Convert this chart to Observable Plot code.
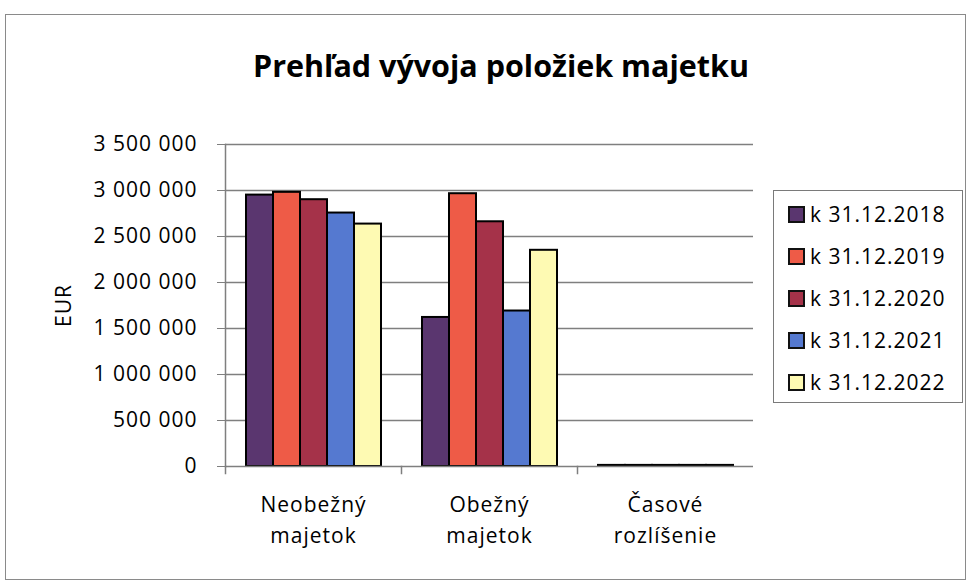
<!DOCTYPE html>
<html>
<head>
<meta charset="utf-8">
<script src="https://cdn.jsdelivr.net/npm/d3@7"></script>
<script src="https://cdn.jsdelivr.net/npm/@observablehq/plot@0.6"></script>
<style>
  html, body { margin: 0; padding: 0; background: #fff; }
  #wrap { position: relative; width: 968px; height: 585px; overflow: hidden; font-family: "Open Sans", sans-serif; color: #000; }
  #frame { position: absolute; left: 5px; top: 14px; width: 961px; height: 566px; border: 1.5px solid #8a8a8a; box-sizing: border-box; }
  #title { position: absolute; left: 0; top: 45px; width: 1002px; text-align: center; font-weight: bold; font-size: 30.5px; line-height: 40px; }
  #chart { position: absolute; left: 0; top: 0; }
  #legend { position: absolute; left: 773px; top: 190px; width: 190px; height: 213px; border: 1.5px solid #7a7a7a; box-sizing: border-box; background: #fff; }
  .item { position: absolute; left: 14px; height: 30px; display: flex; align-items: center; font-size: 21px; letter-spacing: 1px; white-space: nowrap; }
  .sw { width: 13px; height: 13px; border: 2px solid #111; margin-right: 5px; }
</style>
</head>
<body>
<div id="wrap">
  <div id="frame"></div>
  <div id="title"></div>
  <div id="chart"></div>
  <div id="legend"></div>
</div>
<script>
// ---- data ----
const titleText = "Prehľad vývoja položiek majetku";
const categories = ["Neobežný majetok", "Obežný majetok", "Časové rozlíšenie"];
const categoryLabels = ["Neobežný\nmajetok", "Obežný\nmajetok", "Časové\nrozlíšenie"];
const seriesNames = ["k 31.12.2018", "k 31.12.2019", "k 31.12.2020", "k 31.12.2021", "k 31.12.2022"];
const values2018 = [2950000, 1620000, 12000];
const values2019 = [2980000, 2965000, 12000];
const values2020 = [2900000, 2660000, 12000];
const values2021 = [2755000, 1690000, 12000];
const values2022 = [2635000, 2350000, 12000];
const seriesColors = ["#5a366f", "#ee5b47", "#a53249", "#5579d0", "#fefab3"];
const yTicks = [0, 500000, 1000000, 1500000, 2000000, 2500000, 3000000, 3500000];
const yTickLabels = ["0", "500 000", "1 000 000", "1 500 000", "2 000 000", "2 500 000", "3 000 000", "3 500 000"];
const yLabel = "EUR";

const seriesValues = [values2018, values2019, values2020, values2021, values2022];
const table = [];
seriesNames.forEach((s, j) => categories.forEach((c, i) => table.push({category: c, series: s, value: seriesValues[j][i]})));

// ---- layout ----
const W = 968, H = 585, MT = 144, MB = 119, ML = 225, MR = 215;
const FONT = "Open Sans, sans-serif";
const AXIS = "#7f7f7f";

document.getElementById("title").textContent = titleText;

const chart = Plot.plot({
  width: W, height: H,
  marginTop: MT, marginBottom: MB, marginLeft: ML, marginRight: MR,
  style: {fontFamily: FONT, fontSize: "21px", color: "#000", background: "transparent", overflow: "visible", letterSpacing: "1px"},
  fx: {domain: categories, padding: 0, label: null, axis: null},
  x: {domain: seriesNames, paddingInner: 0, paddingOuter: 0.71, axis: null},
  y: {domain: [0, 3500000], axis: null},
  color: {domain: seriesNames, range: seriesColors},
  marks: [
    Plot.gridY(yTicks.slice(1), {stroke: AXIS, strokeOpacity: 1, strokeWidth: 1.5}),
    Plot.barY(table, {fx: "category", x: "series", y: "value", fill: "series", stroke: "#000", strokeWidth: 2}),
    Plot.ruleY([0], {stroke: AXIS, strokeWidth: 1.5}),
    Plot.frame({anchor: "left", facetAnchor: "left", stroke: AXIS, strokeWidth: 1.5}),
    Plot.frame({anchor: "left", stroke: AXIS, strokeWidth: 1.5, insetTop: H - MT - MB, insetBottom: -7}),
    Plot.axisY({ticks: yTicks, tickFormat: d => yTickLabels[yTicks.indexOf(d)], tickSize: 8, tickPadding: 20,
      stroke: AXIS, fill: "#000", fontSize: 21, label: yLabel, labelAnchor: "center", labelOffset: 169, labelArrow: "none"}),
    Plot.axisFx({anchor: "bottom", tickSize: 0, tickPadding: 23, tickFormat: d => categoryLabels[categories.indexOf(d)],
      lineHeight: 1.5, fontSize: 21, fill: "#000", label: null})
  ]
});
document.getElementById("chart").appendChild(chart);

// ---- legend ----
const legend = document.getElementById("legend");
seriesNames.forEach((s, j) => {
  const it = document.createElement("div");
  it.className = "item";
  it.style.top = (8 + j * 42) + "px";
  const sw = document.createElement("div");
  sw.className = "sw";
  sw.style.background = seriesColors[j];
  const tx = document.createElement("span");
  tx.textContent = s;
  it.appendChild(sw); it.appendChild(tx);
  legend.appendChild(it);
});
</script>
</body>
</html>
